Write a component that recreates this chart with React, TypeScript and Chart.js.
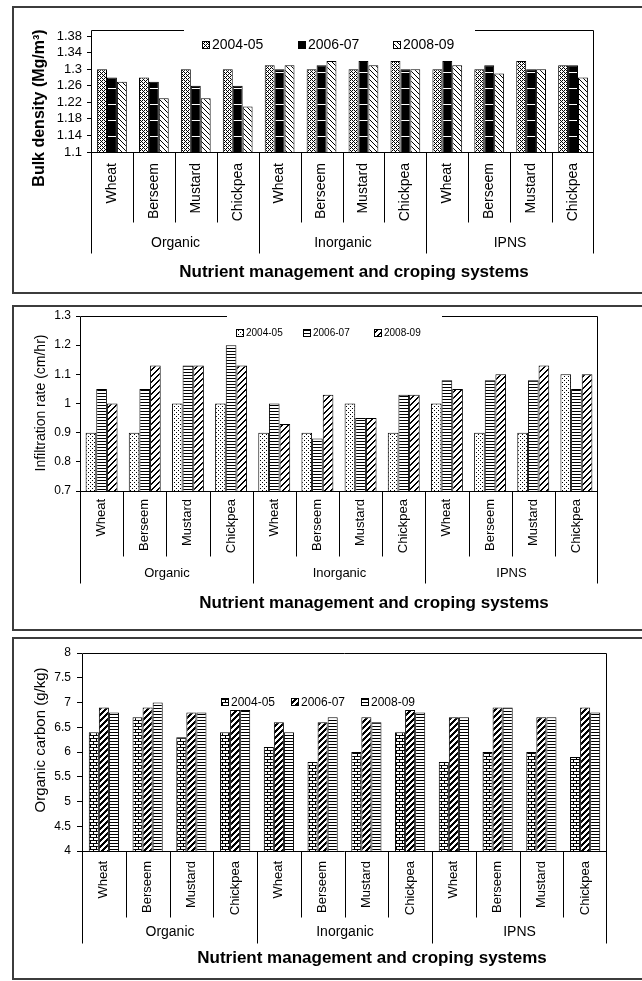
import React, { useEffect, useRef } from 'react';
import { Chart, registerables } from 'chart.js';

Chart.register(...registerables);

// ---------------- DATA ----------------
const categories = [
  'Wheat', 'Berseem', 'Mustard', 'Chickpea',
  'Wheat', 'Berseem', 'Mustard', 'Chickpea',
  'Wheat', 'Berseem', 'Mustard', 'Chickpea',
];
const groups = ['Organic', 'Inorganic', 'IPNS'];
const seasons = ['2004-05', '2006-07', '2008-09'];

const bulk0405 = [1.30, 1.28, 1.30, 1.30, 1.31, 1.30, 1.30, 1.32, 1.30, 1.30, 1.32, 1.31];
const bulk0607 = [1.28, 1.27, 1.26, 1.26, 1.30, 1.31, 1.32, 1.30, 1.32, 1.31, 1.30, 1.31];
const bulk0809 = [1.27, 1.23, 1.23, 1.21, 1.31, 1.32, 1.31, 1.30, 1.31, 1.29, 1.30, 1.28];
const bulkTicks = [1.1, 1.14, 1.18, 1.22, 1.26, 1.3, 1.34, 1.38];

const infil0405 = [0.9, 0.9, 1.0, 1.0, 0.9, 0.9, 1.0, 0.9, 1.0, 0.9, 0.9, 1.1];
const infil0607 = [1.05, 1.05, 1.13, 1.2, 1.0, 0.88, 0.95, 1.03, 1.08, 1.08, 1.08, 1.05];
const infil0809 = [1.0, 1.13, 1.13, 1.13, 0.93, 1.03, 0.95, 1.03, 1.05, 1.1, 1.13, 1.1];
const infilTicks = [0.7, 0.8, 0.9, 1, 1.1, 1.2, 1.3];

const oc0405 = [6.4, 6.7, 6.3, 6.4, 6.1, 5.8, 6.0, 6.4, 5.8, 6.0, 6.0, 5.9];
const oc0607 = [6.9, 6.9, 6.8, 6.85, 6.6, 6.6, 6.7, 6.85, 6.7, 6.9, 6.7, 6.9];
const oc0809 = [6.8, 7.0, 6.8, 6.85, 6.4, 6.7, 6.6, 6.8, 6.7, 6.9, 6.7, 6.8];
const ocTicks = [4, 4.5, 5, 5.5, 6, 6.5, 7, 7.5, 8];

// ---------------- STYLES ----------------
const FAMILY = "'Liberation Sans', Arial, sans-serif";
const W = 642;

// fill patterns (x = black pixel)
const PAT_DOTS_DENSE = ['x.x.', '.x..', 'x.x.', '...x'];
const PAT_BLACK_DASH = [
  'xxxx', 'xxxx', 'xxxx', 'xxxx', 'xxxx', 'xxxx', 'xxxx', 'xxxx',
  '....', 'xxxx', 'xxxx', 'xxxx', 'xxxx', 'xxxx', 'xxxx', 'xxxx',
];
const PAT_BACKSLASH = ['x....', '.x...', '..x..', '...x.', '....x'];
const PAT_DOTS_SPARSE = ['x...', '....', '..x.', '....'];
const PAT_HLINES = ['xxxx', '....', '....'];
const PAT_SLASH = ['....xx', '...xx.', '..xx..', '.xx...', 'xx....', 'x....x'];
const PAT_SLASH_BOLD = ['...xxx', '..xxx.', '.xxx..', 'xxx...', 'xx...x', 'x...xx'];
const PAT_BRICK = ['xxxxxx', 'x.....', 'x.....', 'xxxxxx', '...x..', '...x..'];

function makePattern(rows: string[]): CanvasPattern | string {
  const h = rows.length;
  const w = rows[0].length;
  const c = document.createElement('canvas');
  c.width = w;
  c.height = h;
  const g = c.getContext('2d')!;
  g.fillStyle = '#fff';
  g.fillRect(0, 0, w, h);
  g.fillStyle = '#000';
  for (let y = 0; y < h; y++) {
    for (let x = 0; x < w; x++) {
      if (rows[y][x] === 'x') g.fillRect(x, y, 1, 1);
    }
  }
  return g.createPattern(c, 'repeat') || '#888';
}

type PanelCfg = {
  canvasTop: number;
  canvasH: number;
  area: { left: number; right: number; top: number; bottom: number };
  values: number[][];
  patterns: string[][];
  min: number;
  max: number;
  ticks: number[];
  tickFont: number;
  tickLen: number;
  tickPad: number;
  catFont: number;
  catPad: number;
  catPct: number;
  yTitle: string;
  yTitleFont: string;
  yTitleX: number;
  yTitleY: number;
  titleX: number;
  titleOffset: number;
  groupFont: number;
  groupOffset: number;
  catLine: number;
  groupLine: number;
  legendX: number[];
  legendY: number;
  legendFont: number;
  gap: [number, number] | null;
};

const panels: PanelCfg[] = [
  {
    canvasTop: 0,
    canvasH: 300,
    area: { left: 91, right: 594, top: 30, bottom: 152 },
    values: [bulk0405, bulk0607, bulk0809],
    patterns: [PAT_DOTS_DENSE, PAT_BLACK_DASH, PAT_BACKSLASH],
    min: 1.1,
    max: 1.395,
    ticks: bulkTicks,
    tickFont: 13,
    tickLen: 4,
    tickPad: 5,
    catFont: 14,
    catPad: 11,
    catPct: 0.71,
    yTitle: 'Bulk density (Mg/m³)',
    yTitleFont: `bold 16px ${FAMILY}`,
    yTitleX: 40,
    yTitleY: 108,
    titleX: 354,
    titleOffset: 120,
    groupFont: 14,
    groupOffset: 91,
    catLine: 70,
    groupLine: 101,
    legendX: [202, 298, 393],
    legendY: 45,
    legendFont: 14,
    gap: [184, 475],
  },
  {
    canvasTop: 300,
    canvasH: 336,
    area: { left: 80, right: 598, top: 16, bottom: 191 },
    values: [infil0405, infil0607, infil0809],
    patterns: [PAT_DOTS_SPARSE, PAT_HLINES, PAT_SLASH],
    min: 0.7,
    max: 1.3,
    ticks: infilTicks,
    tickFont: 12,
    tickLen: 4,
    tickPad: 5,
    catFont: 13,
    catPad: 8,
    catPct: 0.74,
    yTitle: 'Infiltration rate (cm/hr)',
    yTitleFont: `14px ${FAMILY}`,
    yTitleX: 41,
    yTitleY: 103,
    titleX: 374,
    titleOffset: 112,
    groupFont: 13,
    groupOffset: 82,
    catLine: 65,
    groupLine: 92,
    legendX: [236, 303, 374],
    legendY: 33,
    legendFont: 10,
    gap: [227, 442],
  },
  {
    canvasTop: 636,
    canvasH: 345,
    area: { left: 82, right: 607, top: 17, bottom: 215 },
    values: [oc0405, oc0607, oc0809],
    patterns: [PAT_BRICK, PAT_SLASH_BOLD, PAT_HLINES],
    min: 4,
    max: 8,
    ticks: ocTicks,
    tickFont: 12,
    tickLen: 5,
    tickPad: 6,
    catFont: 13,
    catPad: 10,
    catPct: 0.69,
    yTitle: 'Organic carbon (g/kg)',
    yTitleFont: `15px ${FAMILY}`,
    yTitleX: 41,
    yTitleY: 104,
    titleX: 372,
    titleOffset: 107,
    groupFont: 14,
    groupOffset: 81,
    catLine: 66,
    groupLine: 92,
    legendX: [221, 291, 361],
    legendY: 66,
    legendFont: 12,
    gap: null,
  },
];

const TITLE = 'Nutrient management and croping systems';

function Panel({ cfg }: { cfg: PanelCfg }) {
  const ref = useRef<HTMLCanvasElement | null>(null);

  useEffect(() => {
    const canvas = ref.current;
    if (!canvas) return;
    const pats = cfg.patterns.map((p) => makePattern(p));

    const deco = {
      id: 'deco',
      afterDraw(chart: any) {
        const { ctx, chartArea: a } = chart;
        const xs = chart.scales.x;
        const L = Math.round(a.left) + 0.5;
        const R = Math.round(a.right) - 0.5;
        const T = Math.round(a.top) + 0.5;
        const B = Math.round(a.bottom) + 0.5;
        ctx.save();
        ctx.strokeStyle = '#000';
        ctx.lineWidth = 1;
        ctx.beginPath();
        // top frame (with legend gap)
        if (cfg.gap) {
          ctx.moveTo(L, T);
          ctx.lineTo(cfg.gap[0], T);
          ctx.moveTo(cfg.gap[1], T);
          ctx.lineTo(R, T);
        } else {
          ctx.moveTo(L, T);
          ctx.lineTo(R, T);
        }
        // left / right frame extending to group separators
        ctx.moveTo(L, T);
        ctx.lineTo(L, B + cfg.groupLine);
        ctx.moveTo(R, T);
        ctx.lineTo(R, B + cfg.groupLine);
        // bottom axis
        ctx.moveTo(L, B);
        ctx.lineTo(R, B);
        // category separators
        const bounds: number[] = [L];
        for (let i = 1; i < categories.length; i++) {
          const sx = Math.round((xs.getPixelForValue(i - 1) + xs.getPixelForValue(i)) / 2) + 0.5;
          const len = i % 4 === 0 ? cfg.groupLine : cfg.catLine;
          ctx.moveTo(sx, B);
          ctx.lineTo(sx, B + len);
          if (i % 4 === 0) bounds.push(sx);
        }
        bounds.push(R);
        ctx.stroke();

        ctx.fillStyle = '#000';
        ctx.textAlign = 'center';
        ctx.textBaseline = 'middle';
        // group labels
        ctx.font = `${cfg.groupFont}px ${FAMILY}`;
        groups.forEach((g, i) => {
          ctx.fillText(g, (bounds[i] + bounds[i + 1]) / 2, B + cfg.groupOffset);
        });
        // x title
        ctx.font = `bold 17px ${FAMILY}`;
        ctx.fillText(TITLE, cfg.titleX, B + cfg.titleOffset);
        // y title
        ctx.save();
        ctx.translate(cfg.yTitleX, cfg.yTitleY);
        ctx.rotate(-Math.PI / 2);
        ctx.font = cfg.yTitleFont;
        ctx.fillText(cfg.yTitle, 0, 0);
        ctx.restore();
        // legend
        ctx.textAlign = 'left';
        ctx.font = `${cfg.legendFont}px ${FAMILY}`;
        cfg.legendX.forEach((lx, i) => {
          const by = Math.round(cfg.legendY - 4);
          ctx.fillStyle = pats[i];
          ctx.fillRect(lx, by, 8, 8);
          ctx.strokeRect(lx + 0.5, by + 0.5, 7, 7);
          ctx.fillStyle = '#000';
          ctx.fillText(seasons[i], lx + 10, cfg.legendY + 0.5);
        });
        ctx.restore();
      },
    };

    const chart = new Chart(canvas, {
      type: 'bar',
      data: {
        labels: categories,
        datasets: seasons.map((s, i) => ({
          label: s,
          data: cfg.values[i],
          backgroundColor: pats[i] as any,
          borderColor: '#000',
          borderWidth: 1,
          categoryPercentage: cfg.catPct,
          barPercentage: 1,
        })),
      },
      options: {
        animation: false,
        responsive: false,
        maintainAspectRatio: false,
        devicePixelRatio: 1,
        layout: {
          padding: { left: 0, top: cfg.area.top, right: W - cfg.area.right, bottom: 0 },
        },
        plugins: {
          legend: { display: false },
          tooltip: { enabled: false },
          title: { display: false },
        },
        scales: {
          x: {
            type: 'category',
            offset: true,
            grid: { display: false, drawTicks: false },
            border: { display: false },
            ticks: {
              autoSkip: false,
              minRotation: 90,
              maxRotation: 90,
              padding: cfg.catPad,
              color: '#000',
              font: { family: FAMILY, size: cfg.catFont },
            },
            afterFit: (s: any) => {
              s.height = cfg.canvasH - cfg.area.bottom;
            },
          },
          y: {
            type: 'linear',
            min: cfg.min,
            max: cfg.max,
            afterBuildTicks: (s: any) => {
              s.ticks = cfg.ticks.map((v) => ({ value: v }));
            },
            afterFit: (s: any) => {
              s.width = cfg.area.left;
            },
            grid: {
              drawOnChartArea: false,
              drawTicks: true,
              tickLength: cfg.tickLen,
              color: '#000',
            },
            border: { display: false },
            ticks: {
              autoSkip: false,
              padding: cfg.tickPad,
              color: '#000',
              font: { family: FAMILY, size: cfg.tickFont },
              callback: (v: any) => String(v),
            },
          },
        },
      },
      plugins: [deco],
    });
    return () => chart.destroy();
  }, [cfg]);

  return (
    <canvas
      ref={ref}
      width={W}
      height={cfg.canvasH}
      style={{ position: 'absolute', left: 0, top: cfg.canvasTop, width: W, height: cfg.canvasH }}
    />
  );
}

const boxes = [
  { top: 6, height: 288 },
  { top: 305, height: 326 },
  { top: 637, height: 343 },
];

export default function App() {
  return (
    <div
      style={{
        position: 'absolute',
        left: 0,
        top: 0,
        width: W,
        height: 981,
        overflow: 'hidden',
        background: '#fff',
      }}
    >
      {boxes.map((b, i) => (
        <div
          key={i}
          style={{
            position: 'absolute',
            left: 12,
            top: b.top,
            width: 660,
            height: b.height,
            boxSizing: 'border-box',
            border: '2px solid #3c3c3c',
          }}
        />
      ))}
      {panels.map((p, i) => (
        <Panel key={i} cfg={p} />
      ))}
    </div>
  );
}
